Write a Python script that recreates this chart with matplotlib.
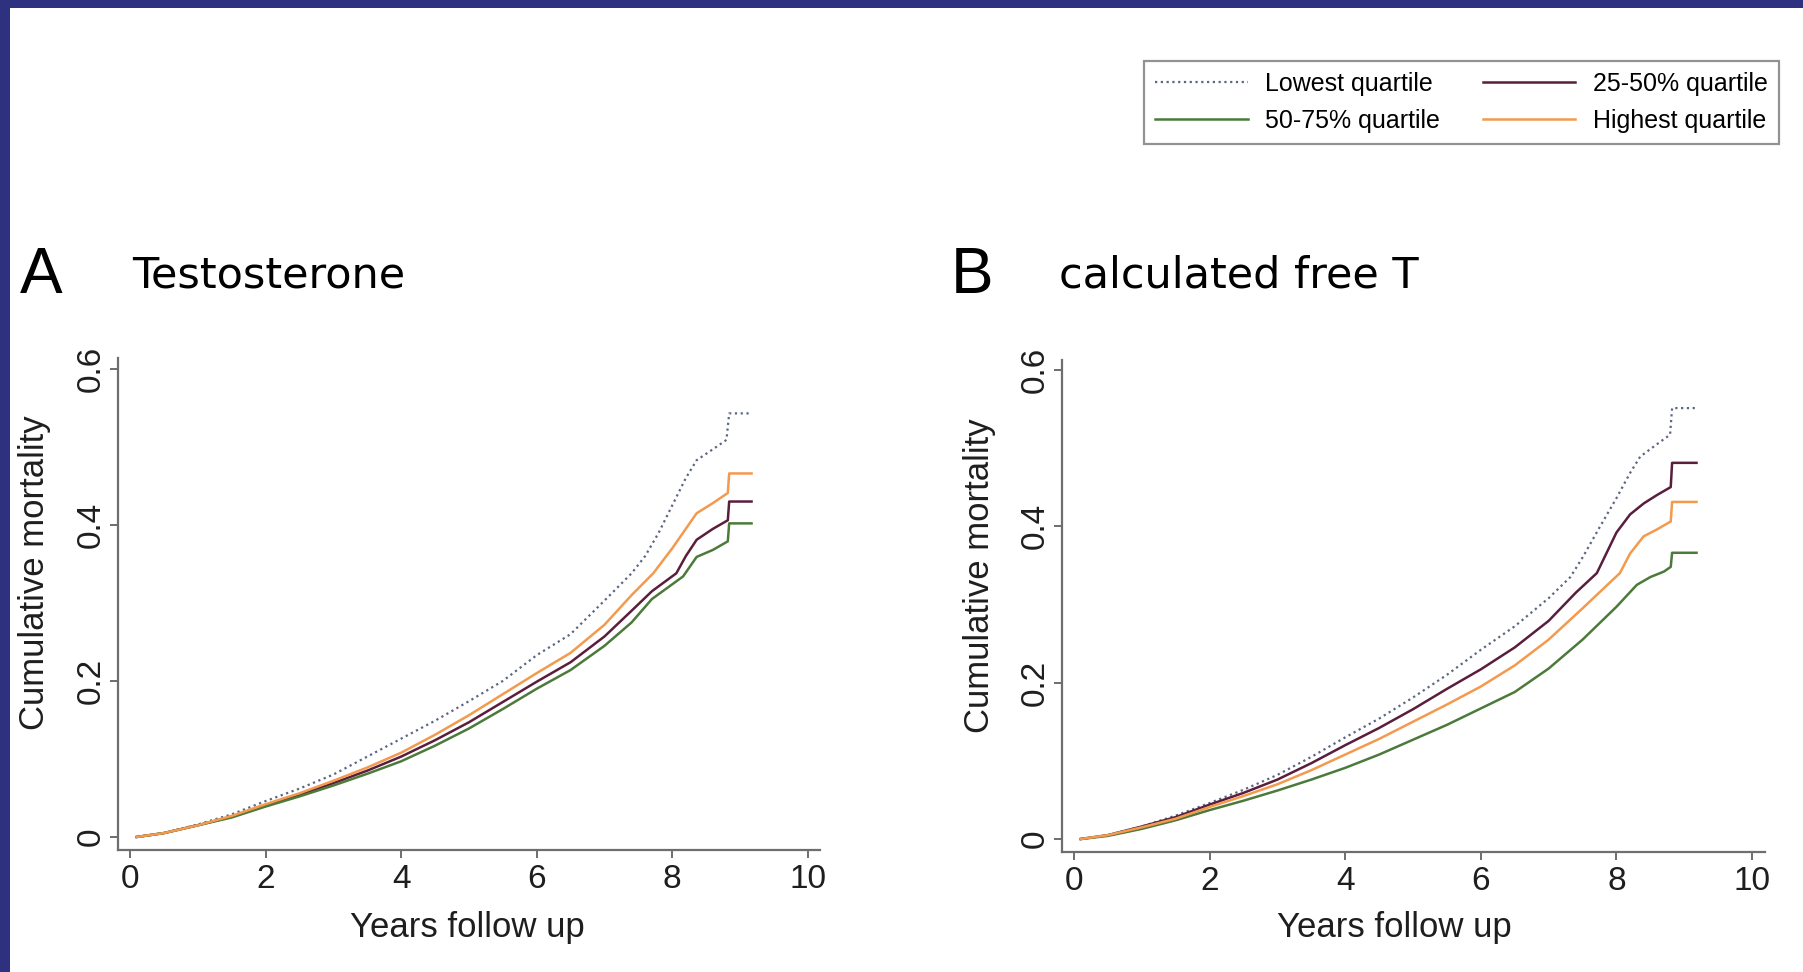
import matplotlib
matplotlib.use("Agg")
import matplotlib.pyplot as plt
from matplotlib.patches import Rectangle

# ---------------- data ----------------
series_names = ["Lowest quartile", "25-50% quartile", "50-75% quartile", "Highest quartile"]

# Panel A: Testosterone
a_low_t = [0.1, 0.5, 1, 1.5, 2, 2.5, 3, 3.5, 4, 4.5, 5, 5.5, 6, 6.5, 7, 7.4, 7.6, 7.8, 8.0, 8.2, 8.36, 8.6, 8.8, 8.84, 9.17]
a_low_v = [0, 0.005, 0.016, 0.029, 0.046, 0.062, 0.080, 0.103, 0.126, 0.149, 0.174, 0.200, 0.233, 0.260, 0.303, 0.338, 0.360, 0.390, 0.425, 0.460, 0.483, 0.497, 0.509, 0.543, 0.543]

a_q2_t = [0.1, 0.5, 1, 1.5, 2, 2.5, 3, 3.5, 4, 4.5, 5, 5.5, 6, 6.5, 7, 7.4, 7.7, 8.06, 8.2, 8.36, 8.6, 8.82, 8.84, 9.17]
a_q2_v = [0, 0.005, 0.015, 0.026, 0.040, 0.054, 0.069, 0.085, 0.103, 0.124, 0.147, 0.173, 0.199, 0.224, 0.257, 0.290, 0.315, 0.338, 0.360, 0.381, 0.395, 0.406, 0.430, 0.430]

a_q3_t = [0.1, 0.5, 1, 1.5, 2, 2.5, 3, 3.5, 4, 4.5, 5, 5.5, 6, 6.5, 7, 7.4, 7.7, 8.16, 8.36, 8.6, 8.82, 8.84, 9.17]
a_q3_v = [0, 0.005, 0.015, 0.025, 0.039, 0.052, 0.066, 0.081, 0.097, 0.117, 0.139, 0.164, 0.190, 0.214, 0.245, 0.275, 0.305, 0.334, 0.359, 0.368, 0.379, 0.402, 0.402]

a_high_t = [0.1, 0.5, 1, 1.5, 2, 2.5, 3, 3.5, 4, 4.5, 5, 5.5, 6, 6.5, 7, 7.4, 7.72, 8.0, 8.2, 8.36, 8.6, 8.82, 8.84, 9.17]
a_high_v = [0, 0.005, 0.015, 0.027, 0.042, 0.056, 0.072, 0.089, 0.108, 0.131, 0.156, 0.183, 0.210, 0.236, 0.272, 0.310, 0.338, 0.370, 0.395, 0.415, 0.428, 0.441, 0.466, 0.466]

# Panel B: calculated free T
b_low_t = [0.1, 0.5, 1, 1.5, 2, 2.5, 3, 3.5, 4, 4.5, 5, 5.5, 6, 6.5, 7, 7.32, 7.5, 7.76, 8.0, 8.2, 8.35, 8.6, 8.79, 8.82, 9.18]
b_low_v = [0, 0.005, 0.016, 0.030, 0.046, 0.063, 0.082, 0.105, 0.130, 0.154, 0.181, 0.210, 0.242, 0.272, 0.308, 0.335, 0.360, 0.400, 0.436, 0.468, 0.489, 0.505, 0.517, 0.551, 0.551]

b_q2_t = [0.1, 0.5, 1, 1.5, 2, 2.5, 3, 3.5, 4, 4.5, 5, 5.5, 6, 6.5, 7, 7.4, 7.71, 8.0, 8.2, 8.4, 8.6, 8.8, 8.82, 9.18]
b_q2_v = [0, 0.005, 0.016, 0.028, 0.044, 0.059, 0.076, 0.097, 0.120, 0.142, 0.166, 0.192, 0.217, 0.245, 0.279, 0.315, 0.340, 0.392, 0.415, 0.429, 0.440, 0.450, 0.481, 0.481]

b_q3_t = [0.1, 0.5, 1, 1.5, 2, 2.5, 3, 3.5, 4, 4.5, 5, 5.5, 6, 6.5, 7, 7.5, 8.0, 8.3, 8.5, 8.7, 8.8, 8.82, 9.18]
b_q3_v = [0, 0.004, 0.013, 0.024, 0.037, 0.049, 0.062, 0.076, 0.091, 0.108, 0.127, 0.146, 0.167, 0.188, 0.218, 0.255, 0.297, 0.325, 0.335, 0.342, 0.348, 0.366, 0.366]

b_high_t = [0.1, 0.5, 1, 1.5, 2, 2.5, 3, 3.5, 4, 4.5, 5, 5.5, 6, 6.5, 7, 7.5, 8.05, 8.2, 8.4, 8.6, 8.8, 8.82, 9.18]
b_high_v = [0, 0.005, 0.015, 0.026, 0.041, 0.055, 0.070, 0.088, 0.108, 0.128, 0.150, 0.172, 0.195, 0.222, 0.255, 0.295, 0.340, 0.365, 0.387, 0.396, 0.406, 0.431, 0.431]

x_ticks = [0, 2, 4, 6, 8, 10]
y_ticks = [0, 0.2, 0.4, 0.6]
y_ticklabels = ["0", "0.2", "0.4", "0.6"]

panel_letters = ["A", "B"]
panel_titles = ["Testosterone", "calculated free T"]
x_label = "Years follow up"
y_label = "Cumulative mortality"

# ---------------- style ----------------
W, H = 1803, 972
fig = plt.figure(figsize=(W / 100, H / 100), dpi=100)
fig.patch.set_facecolor("white")

navy = "#2E3180"
fig.patches.append(Rectangle((0, 1 - 8 / H), 1, 8 / H, transform=fig.transFigure,
                             facecolor=navy, edgecolor="none", zorder=-1))
fig.patches.append(Rectangle((0, 0), 10 / W, 1, transform=fig.transFigure,
                             facecolor=navy, edgecolor="none", zorder=-1))

colors = {"low": "#5b6680", "q2": "#5a1e3c", "q3": "#4c7a3a", "high": "#f39a4e"}
axis_gray = "#6e6e6e"
text_col = "#1e1e1e"
FONT = "Liberation Sans"


def px_axes(left, right, top, bottom):
    return [left / W, 1 - bottom / H, (right - left) / W, (bottom - top) / H]


def setup(ax, xlim, ylim):
    ax.set_xlim(*xlim)
    ax.set_ylim(*ylim)
    for s in ["top", "right"]:
        ax.spines[s].set_visible(False)
    for s in ["left", "bottom"]:
        ax.spines[s].set_color(axis_gray)
        ax.spines[s].set_linewidth(1.6)
    ax.set_xticks(x_ticks)
    ax.set_xticklabels([str(t) for t in x_ticks], fontsize=24, family=FONT, color=text_col)
    ax.set_yticks(y_ticks)
    ax.set_yticklabels(y_ticklabels, fontsize=24, family=FONT, color=text_col,
                       rotation=90, va="center")
    ax.tick_params(axis="both", length=6, width=1.4, color=axis_gray)
    ax.tick_params(axis="x", pad=4)
    ax.tick_params(axis="y", pad=2)


def draw(ax, low, q2, q3, high):
    l1, = ax.plot(*low, color=colors["low"], lw=1.6, ls=(0, (1, 1.6)), label=series_names[0])
    l2, = ax.plot(*q2, color=colors["q2"], lw=1.8, label=series_names[1])
    l3, = ax.plot(*q3, color=colors["q3"], lw=1.8, label=series_names[2])
    l4, = ax.plot(*high, color=colors["high"], lw=1.8, label=series_names[3])
    return [l1, l2, l3, l4]


axA = fig.add_axes(px_axes(118, 820, 358, 850))
setup(axA, (-0.177, 10.18), (-0.0167, 0.614))
linesA = draw(axA, (a_low_t, a_low_v), (a_q2_t, a_q2_v), (a_q3_t, a_q3_v), (a_high_t, a_high_v))

axB = fig.add_axes(px_axes(1062, 1765, 360, 852))
setup(axB, (-0.177, 10.19), (-0.0166, 0.6125))
draw(axB, (b_low_t, b_low_v), (b_q2_t, b_q2_v), (b_q3_t, b_q3_v), (b_high_t, b_high_v))

# panel letters and titles (baseline positions in pixels)
fig.text(20 / W, 1 - 293 / H, panel_letters[0], fontsize=46, family=FONT, va="baseline", ha="left")
fig.text(132 / W, 1 - 287 / H, panel_titles[0], fontsize=31, family="DejaVu Sans", va="baseline", ha="left")
fig.text(951 / W, 1 - 293 / H, panel_letters[1], fontsize=46, family=FONT, va="baseline", ha="left")
fig.text(1059 / W, 1 - 287 / H, panel_titles[1], fontsize=31, family="DejaVu Sans", va="baseline", ha="left")

# axis labels
fig.text(467 / W, 1 - 927 / H, x_label, fontsize=25, family=FONT, ha="center", va="center", color=text_col)
fig.text(1394 / W, 1 - 927 / H, x_label, fontsize=25, family=FONT, ha="center", va="center", color=text_col)
fig.text(35 / W, 1 - 573 / H, y_label, fontsize=25, family=FONT, ha="center", va="center",
         rotation=90, color=text_col)
fig.text(980 / W, 1 - 576 / H, y_label, fontsize=25, family=FONT, ha="center", va="center",
         rotation=90, color=text_col)

# legend: row 1 = Lowest, 25-50 ; row 2 = 50-75, Highest (columns filled first)
order = [0, 2, 1, 3]
leg = fig.legend([linesA[i] for i in order], [series_names[i] for i in order],
                 ncol=2, loc="upper left",
                 bbox_to_anchor=(1144 / W, 1 - 61 / H),
                 prop={"family": FONT, "size": 18},
                 frameon=True, fancybox=False, edgecolor="#777777",
                 handlelength=3.7, handletextpad=0.7, columnspacing=1.7,
                 labelspacing=0.5, borderpad=0.45, borderaxespad=0)
leg.get_frame().set_linewidth(1.6)

fig.savefig("out.png", dpi=100, facecolor="white")
